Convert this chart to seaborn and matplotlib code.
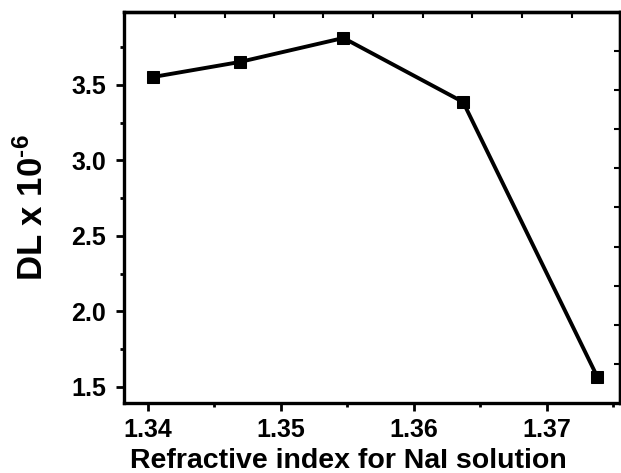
import matplotlib
matplotlib.use("Agg")
import matplotlib.pyplot as plt
from matplotlib.ticker import MultipleLocator
import seaborn as sns
import pandas as pd

# Data
refractive_index = [1.3404, 1.3469, 1.3547, 1.3637, 1.3738]
dl_values = [3.553, 3.652, 3.811, 3.387, 1.566]
x_ticks = [1.34, 1.35, 1.36, 1.37]
x_tick_labels = ["1.34", "1.35", "1.36", "1.37"]
y_ticks = [1.5, 2.0, 2.5, 3.0, 3.5]
y_tick_labels = ["1.5", "2.0", "2.5", "3.0", "3.5"]
# unlabeled inward ticks of the top / right frame
top_ticks = [1.34203, 1.34579, 1.34947, 1.35316, 1.35692, 1.36068,
             1.36436, 1.36812, 1.37188]
right_ticks = [3.725, 3.467, 3.209, 2.950, 2.692, 2.427, 2.169, 1.911, 1.652]

df = pd.DataFrame({"n": refractive_index, "dl": dl_values})

sns.set_theme(style="ticks")
plt.rcParams["font.family"] = ["Liberation Sans", "DejaVu Sans"]
plt.rcParams["font.weight"] = "bold"
plt.rcParams["text.color"] = "black"
plt.rcParams["axes.labelcolor"] = "black"
plt.rcParams["xtick.color"] = "black"
plt.rcParams["ytick.color"] = "black"
plt.rcParams["axes.unicode_minus"] = False
plt.rcParams["mathtext.fontset"] = "custom"
plt.rcParams["mathtext.bf"] = "Liberation Sans:bold"
plt.rcParams["mathtext.rm"] = "Liberation Sans:bold"
plt.rcParams["mathtext.default"] = "bf"

fig = plt.figure(figsize=(6.21, 4.73), dpi=100)
ax = fig.add_axes([0.1997, 0.148, 0.7987, 0.8266])

sns.lineplot(data=df, x="n", y="dl", ax=ax, color="black", linewidth=2.8,
             marker="s", markersize=9, markeredgecolor="black",
             markerfacecolor="black")

ax.set_xlim(1.3382, 1.3755)
ax.set_ylim(1.394, 3.983)
ax.set_xticks(x_ticks)
ax.set_xticklabels(x_tick_labels, fontsize=18, fontweight="bold")
ax.set_yticks(y_ticks)
ax.set_yticklabels(y_tick_labels, fontsize=18, fontweight="bold")
ax.xaxis.set_minor_locator(MultipleLocator(0.005))
ax.yaxis.set_minor_locator(MultipleLocator(0.25))

ax.tick_params(which="both", direction="out", width=2.0, colors="black")
ax.tick_params(which="major", length=6)
ax.tick_params(axis="x", which="major", pad=5)
ax.tick_params(axis="y", which="major", pad=7)
ax.tick_params(which="minor", length=3)

for s in ax.spines.values():
    s.set_linewidth(2.4)
    s.set_color("black")

sec_top = ax.secondary_xaxis("top")
sec_top.set_xticks(top_ticks)
sec_top.set_xticklabels([])
sec_top.tick_params(direction="in", length=4, width=1.5, colors="black")
sec_top.spines["top"].set_linewidth(2.4)

sec_right = ax.secondary_yaxis("right")
sec_right.set_yticks(right_ticks)
sec_right.set_yticklabels([])
sec_right.tick_params(direction="in", length=4, width=1.5, colors="black")
sec_right.spines["right"].set_linewidth(2.4)

ax.set_xlabel("Refractive index for NaI solution", fontsize=20.5,
              fontweight="bold")
ax.xaxis.set_label_coords(0.452, -0.115, transform=ax.transAxes)
ax.xaxis.label.set_verticalalignment("top")
ax.set_ylabel(r"DL x 10$^{\text{-6}}$", fontsize=25, fontweight="bold")
ax.yaxis.set_label_coords(-0.15, 0.5, transform=ax.transAxes)

fig.savefig("out.png", dpi=100)
